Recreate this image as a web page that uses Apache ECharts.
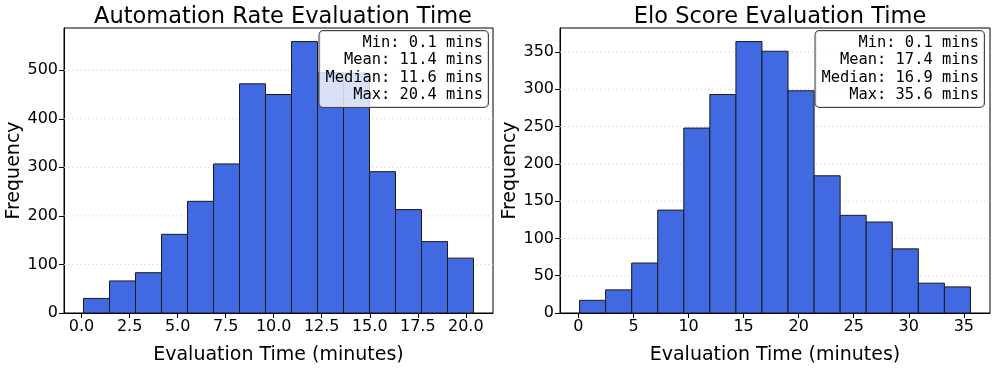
<!DOCTYPE html>
<html>
<head>
<meta charset="utf-8">
<script src="https://cdn.jsdelivr.net/npm/echarts@6/dist/echarts.min.js"></script>
<style>html,body{margin:0;padding:0;background:#fff}#c{width:996px;height:370px}</style>
</head>
<body>
<div id="c"></div>
<script>
// ---- data ----
const titles = ["Automation Rate Evaluation Time", "Elo Score Evaluation Time"];
const autoCounts = [30, 66, 83, 162, 230, 307, 472, 450, 559, 495, 494, 291, 213, 147, 113];
const eloCounts = [17, 31, 67, 138, 248, 293, 364, 351, 298, 184, 131, 122, 86, 40, 35];
const autoRange = [0.1, 20.4];
const eloRange = [0.1, 35.6];
const autoStats = ["Min: 0.1 mins", "Mean: 11.4 mins", "Median: 11.6 mins", "Max: 20.4 mins"];
const eloStats = ["Min: 0.1 mins", "Mean: 17.4 mins", "Median: 16.9 mins", "Max: 35.6 mins"];
const autoXTicks = [0, 2.5, 5, 7.5, 10, 12.5, 15, 17.5, 20];
const eloXTicks = [0, 5, 10, 15, 20, 25, 30, 35];
const autoYTicks = [0, 100, 200, 300, 400, 500];
const eloYTicks = [0, 50, 100, 150, 200, 250, 300, 350];

function binData(counts, range) {
  const n = counts.length, w = (range[1] - range[0]) / n;
  return counts.map((c, i) => [range[0] + i * w, range[0] + (i + 1) * w, c]);
}

const chart = echarts.init(document.getElementById('c'), null, {renderer: 'canvas'});
const FONT = 'DejaVu Sans';
const grids = [
  {left: 64, top: 28, width: 429, height: 292},
  {left: 560, top: 28, width: 430, height: 292}
];

function xAxis(idx, range, ticks, dec) {
  const m = (range[1] - range[0]) * 0.05;
  return {
    type: 'value', gridIndex: idx, min: range[0] - m, max: range[1] + m,
    name: 'Evaluation Time (minutes)', nameLocation: 'middle', nameGap: 33,
    nameTextStyle: {fontFamily: FONT, fontSize: 19, color: '#000'},
    axisLine: {show: true, onZero: false, lineStyle: {color: '#000', width: 1}},
    axisTick: {show: true, length: 5, lineStyle: {color: '#000'}, customValues: ticks},
    axisLabel: {fontFamily: FONT, fontSize: 16, color: '#000', margin: 6, customValues: ticks,
      formatter: v => v.toFixed(dec)},
    splitLine: {show: false}
  };
}
function yAxis(idx, counts, ticks) {
  const mx = Math.max(...counts) * 1.05;
  return {
    type: 'value', gridIndex: idx, min: 0, max: mx,
    name: 'Frequency', nameLocation: 'middle', nameGap: idx === 0 ? 39 : 40, nameRotate: 90,
    nameTextStyle: {fontFamily: FONT, fontSize: 19, color: '#000'},
    axisLine: {show: true, onZero: false, lineStyle: {color: '#000', width: 1}},
    axisTick: {show: true, length: 5, lineStyle: {color: '#000'}, customValues: ticks},
    axisLabel: {fontFamily: FONT, fontSize: 16, color: '#000', margin: 6, customValues: ticks},
    splitLine: {show: false}
  };
}
function gridLines(idx, ticks) {
  return {
    type: 'custom', xAxisIndex: idx, yAxisIndex: idx, silent: true, z: 1,
    data: ticks.filter(t => t > 0).map(t => [t]),
    renderItem: function (params, api) {
      const cs = params.coordSys;
      const y = api.coord([0, api.value(0)])[1];
      return {type: 'line', shape: {x1: cs.x, y1: y, x2: cs.x + cs.width, y2: y},
        style: {stroke: '#d9d9d9', lineWidth: 1, lineDash: [1.5, 2.5]}};
    }
  };
}
function bars(idx, data) {
  return {
    type: 'custom', xAxisIndex: idx, yAxisIndex: idx, z: 2,
    data: data,
    encode: {x: [0, 1], y: 2},
    renderItem: function (params, api) {
      const p0 = api.coord([api.value(0), api.value(2)]);
      const p1 = api.coord([api.value(1), 0]);
      return {type: 'rect', shape: {x: p0[0], y: p0[1], width: p1[0] - p0[0], height: p1[1] - p0[1]},
        style: {fill: '#4169E1', stroke: '#1a1a1a', lineWidth: 1}};
    }
  };
}
function statBox(right, lines) {
  const w = Math.max(...lines.map(l => l.length));
  return {
    type: 'text', right: right, top: 30, z: 100,
    style: {
      text: lines.map(l => l.padStart(w, ' ')).join('\n'), font: '15.4px "DejaVu Sans Mono"', fill: '#000',
      lineHeight: 17.5, backgroundColor: 'rgba(255,255,255,0.8)', borderColor: '#444',
      borderWidth: 1, borderRadius: 4, padding: [3, 5, 3, 6]
    }
  };
}

chart.setOption({
  animation: false,
  backgroundColor: '#fff',
  title: [
    {text: titles[0], left: 278, top: 1, textAlign: 'center',
      textStyle: {fontFamily: FONT, fontSize: 22.5, fontWeight: 'normal', color: '#000'}},
    {text: titles[1], left: 775, top: 1, textAlign: 'center',
      textStyle: {fontFamily: FONT, fontSize: 22.5, fontWeight: 'normal', color: '#000'}}
  ],
  grid: grids.map(g => Object.assign({show: true, borderColor: '#000', borderWidth: 1, backgroundColor: 'transparent'}, g)),
  xAxis: [xAxis(0, autoRange, autoXTicks, 1), xAxis(1, eloRange, eloXTicks, 0)],
  yAxis: [yAxis(0, autoCounts, autoYTicks), yAxis(1, eloCounts, eloYTicks)],
  series: [
    gridLines(0, autoYTicks), gridLines(1, eloYTicks),
    bars(0, binData(autoCounts, autoRange)), bars(1, binData(eloCounts, eloRange))
  ],
  graphic: [statBox(996 - 489, autoStats), statBox(996 - 985, eloStats)]
});
</script>
</body>
</html>
